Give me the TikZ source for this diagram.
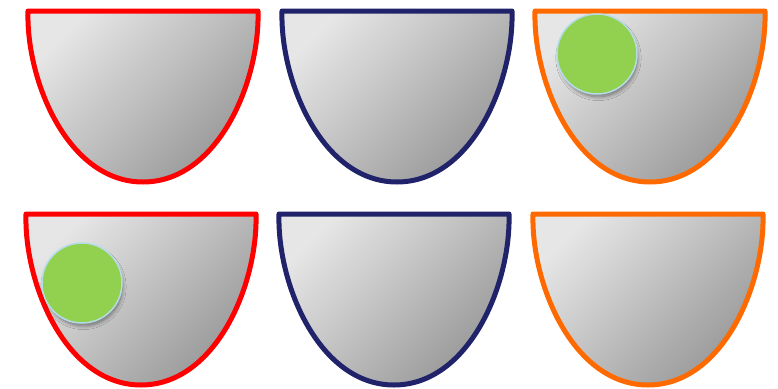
\documentclass[tikz,border=0pt]{standalone}
\usetikzlibrary{shadows.blur}
\definecolor{cupred}{HTML}{FF0000}
\definecolor{cupnavy}{HTML}{20226A}
\definecolor{cuporange}{HTML}{FF6A00}
\definecolor{ballgreen}{HTML}{92D050}
\definecolor{ballrim}{HTML}{B4DCE6}
\definecolor{shadelight}{HTML}{E6E6E6}
\definecolor{shadedark}{HTML}{979797}
\tikzset{
  cup/.pic={
    \path[pic actions] (0,0) -- (230,0)
      .. controls (232,70) and (190,171) .. (115,171)
      .. controls (40,171) and (-2,70) .. (0,0) -- cycle;
  },
  cupstyle/.style={line width=5pt, line join=round, draw=#1,
    top color=shadelight, bottom color=shadedark, shading angle=45},
  ball/.style={circle, minimum size=80pt, inner sep=0pt, fill=ballgreen,
    draw=ballrim, line width=1.5pt,
    blur shadow={shadow xshift=1.5pt, shadow yshift=-4pt, shadow scale=0.97, shadow blur radius=4pt, shadow blur steps=10, shadow opacity=45}}
}
\begin{document}
\begin{tikzpicture}[x=1pt,y=-1pt]
\useasboundingbox (0,0) rectangle (778,388);
\pic[cupstyle=cupred] (c1) at (28,11) {cup};
\pic[cupstyle=cupnavy] (c2) at (282,11) {cup};
\pic[cupstyle=cuporange] (c3) at (535,11) {cup};
\pic[cupstyle=cupred] (c4) at (26,214) {cup};
\pic[cupstyle=cupnavy] (c5) at (279,214) {cup};
\pic[cupstyle=cuporange] (c6) at (533,214) {cup};
\node[ball] (b1) at (597,54) {};
\node[ball] (b2) at (82,283) {};
\end{tikzpicture}
\end{document}
